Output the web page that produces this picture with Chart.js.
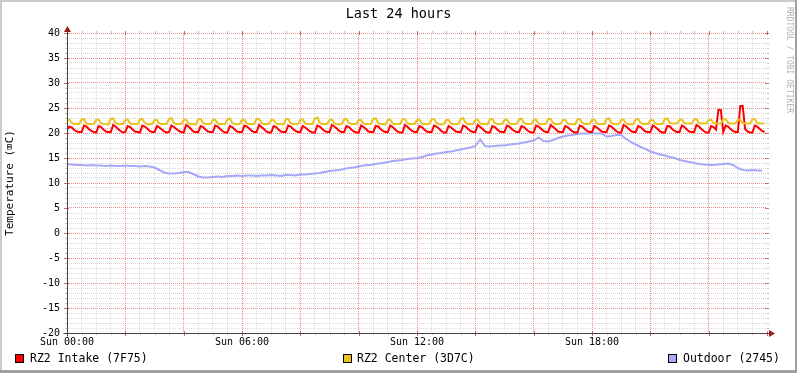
<!DOCTYPE html>
<html>
<head>
<meta charset="utf-8">
<script src="https://cdn.jsdelivr.net/npm/chart.js@4.4.1/dist/chart.umd.min.js"></script>
<style>
  html, body { margin:0; padding:0; background:#ffffff; }
  #wrap { position:relative; width:797px; height:373px; overflow:hidden; background:#ffffff; }
  #c { position:absolute; left:0; top:0; }
  .mono { font-family:'DejaVu Sans Mono', 'Liberation Mono', monospace; color:#000; }
  #title { position:absolute; left:0; top:5px; width:797px; text-align:center; font-size:13.5px; line-height:16px; }
  #wm { position:absolute; left:784px; top:7px; writing-mode:vertical-rl; font-size:8px; line-height:10px; color:#b0b0b0; white-space:nowrap; }
  .lg { position:absolute; top:351px; font-size:11.5px; line-height:14px; white-space:nowrap; }
  .sw { position:absolute; top:354px; width:7px; height:7px; border:1px solid #000; }
  .bd { position:absolute; }
</style>
</head>
<body>
<div id="wrap">
  <canvas id="c" width="797" height="373"></canvas>
  <div id="title" class="mono">Last 24 hours</div>
  <div id="wm" class="mono">RRDTOOL / TOBI OETIKER</div>
  <div id="legend"></div>
  <div class="bd" style="left:0;top:0;width:797px;height:2px;background:#cbcbcb"></div>
  <div class="bd" style="left:0;top:0;width:2px;height:373px;background:#cbcbcb"></div>
  <div class="bd" style="left:795px;top:0;width:2px;height:373px;background:#a0a0a0"></div>
  <div class="bd" style="left:0;top:370px;width:797px;height:3px;background:#a0a0a0"></div>
</div>
<script>
// ---- data ----
const seriesNames = ['RZ2 Intake (7F75)', 'RZ2 Center (3D7C)', 'Outdoor (2745)'];
const seriesColors = ['#FF0000', '#EAC320', '#A8A8F8'];
const xTickLabels = ['Sun 00:00', 'Sun 06:00', 'Sun 12:00', 'Sun 18:00'];
const intakeStepMin = 5;
const outdoorStepMin = 10;

// RZ2 Intake, one value every 5 minutes from 00:00
const intake = [
 20.7,21.3,21.1,20.6,20.3,20.2,  20.2,21.5,21.3,20.8,20.4,20.2,  20.1,21.4,21.2,20.7,20.3,20.2,  20.2,21.6,21.3,20.8,20.4,20.1,
 20.2,21.4,21.2,20.7,20.3,20.2,  20.1,21.5,21.3,20.9,20.4,20.2,  20.2,21.4,21.1,20.7,20.3,20.1,  20.2,21.5,21.2,20.8,20.4,20.2,
 20.1,21.6,21.3,20.8,20.3,20.2,  20.2,21.4,21.2,20.7,20.3,20.2,  20.2,21.5,21.3,20.8,20.4,20.1,  20.1,21.4,21.2,20.7,20.3,20.2,
 20.2,21.5,21.3,20.9,20.4,20.2,  20.2,21.6,21.2,20.8,20.3,20.1,  20.1,21.4,21.2,20.7,20.3,20.2,  20.2,21.5,21.3,20.8,20.4,20.2,
 20.2,21.4,21.1,20.7,20.3,20.1,  20.1,21.5,21.3,20.8,20.4,20.2,  20.2,21.6,21.3,20.9,20.4,20.2,  20.2,21.4,21.2,20.7,20.3,20.1,
 20.1,21.5,21.2,20.8,20.3,20.2,  20.2,21.4,21.3,20.8,20.4,20.2,  20.2,21.5,21.2,20.7,20.3,20.1,  20.1,21.6,21.3,20.8,20.4,20.2,
 20.2,21.4,21.2,20.7,20.3,20.2,  20.2,21.5,21.3,20.9,20.4,20.1,  20.1,21.4,21.1,20.7,20.3,20.2,  20.2,21.5,21.3,20.8,20.4,20.2,
 20.2,21.6,21.2,20.8,20.3,20.1,  20.1,21.4,21.2,20.7,20.3,20.2,  20.2,21.5,21.3,20.8,20.4,20.2,  20.2,21.4,21.2,20.7,20.3,20.1,
 20.1,21.5,21.3,20.9,20.4,20.2,  20.2,21.6,21.2,20.8,20.3,20.2,  20.2,21.4,21.2,20.7,20.3,20.1,  20.1,21.5,21.3,20.8,20.4,20.2,
 20.2,21.4,21.1,20.7,20.3,20.2,  20.2,21.5,21.3,20.8,20.4,20.1,  20.1,21.6,21.3,20.9,20.4,20.2,  20.2,21.4,21.2,20.7,20.3,20.2,
 20.2,21.5,21.2,20.8,20.3,20.1,  20.1,21.4,21.3,20.8,20.4,20.2,  20.2,21.5,21.2,20.7,20.3,20.2,  20.2,21.6,21.3,20.8,20.4,20.1,
 20.1,21.4,21.2,20.7,24.6,24.6,  20.2,21.5,21.3,20.8,20.4,20.2,  20.2,25.4,25.4,20.8,20.3,20.1,  20.1,21.5,21.3,20.8,20.4,20.2
];

// RZ2 Center, one value every 5 minutes from 00:00
const center = [
 22.6,22.7,22.0,21.8,21.8,21.8,  22.7,22.8,21.9,21.8,21.8,21.8,  22.6,22.7,22.0,21.8,21.8,21.7,  22.8,22.9,22.0,21.8,21.8,21.8,
 22.6,22.7,21.9,21.8,21.8,21.8,  22.7,22.8,22.0,21.8,21.7,21.8,  22.6,22.6,21.9,21.8,21.8,21.8,  22.8,23.0,22.0,21.8,21.8,21.8,
 22.6,22.7,21.9,21.8,21.8,21.7,  22.7,22.8,22.0,21.8,21.8,21.8,  22.6,22.7,21.9,21.8,21.8,21.8,  22.7,22.9,22.0,21.8,21.7,21.8,
 22.6,22.7,21.9,21.8,21.8,21.8,  22.8,22.8,22.0,21.8,21.8,21.8,  22.6,22.6,21.9,21.8,21.8,21.7,  22.7,22.8,22.0,21.8,21.8,21.8,
 22.6,22.7,21.9,21.8,21.8,21.8,  22.9,23.1,22.0,21.8,21.8,21.8,  22.6,22.7,21.9,21.8,21.7,21.8,  22.7,22.8,22.0,21.8,21.8,21.8,
 22.6,22.6,21.9,21.8,21.8,21.8,  22.8,22.9,22.0,21.8,21.8,21.7,  22.6,22.7,21.9,21.8,21.8,21.8,  22.7,22.8,22.0,21.8,21.8,21.8,
 22.6,22.7,21.9,21.8,21.8,21.8,  22.7,22.8,22.0,21.8,21.7,21.8,  22.6,22.6,21.9,21.8,21.8,21.8,  22.8,23.0,22.0,21.8,21.8,21.8,
 22.6,22.7,21.9,21.8,21.8,21.7,  22.7,22.8,22.0,21.8,21.8,21.8,  22.6,22.7,21.9,21.8,21.8,21.8,  22.7,22.9,22.0,21.8,21.8,21.8,
 22.6,22.7,21.9,21.8,21.8,21.8,  22.8,22.8,22.0,21.8,21.8,21.8,  22.6,22.6,21.9,21.8,21.8,21.7,  22.7,22.8,22.0,21.8,21.8,21.8,
 22.6,22.7,21.9,21.8,21.8,21.8,  22.8,22.9,22.0,21.8,21.8,21.8,  22.6,22.7,21.9,21.8,21.7,21.8,  22.7,22.8,22.0,21.8,21.8,21.8,
 22.6,22.6,21.9,21.8,21.8,21.8,  22.8,22.9,22.0,21.9,21.9,21.9,  22.6,22.7,22.0,21.9,21.9,21.9,  22.7,22.8,22.0,21.9,21.9,21.9,
 22.6,22.7,22.0,21.9,21.9,21.9,  22.7,22.8,22.0,21.9,21.9,21.9,  22.6,22.7,22.0,21.9,21.9,21.9,  22.7,22.8,22.0,21.9,21.9,21.9
];

// Outdoor, one value every 10 minutes from 00:00
const outdoor = [
 13.8,13.7,13.6,13.6,13.5,13.6, 13.5,13.5,13.4,13.5,13.4,13.4,
 13.5,13.4,13.4,13.3,13.4,13.3, 13.1,12.6,12.1,11.9,11.9,12.0,
 12.2,12.2,11.8,11.3,11.1,11.1, 11.2,11.3,11.2,11.4,11.4,11.5,
 11.4,11.5,11.5,11.4,11.5,11.5, 11.6,11.5,11.4,11.6,11.6,11.5,
 11.7,11.7,11.8,11.9,12.0,12.2, 12.4,12.5,12.6,12.8,13.0,13.1,
 13.3,13.5,13.6,13.7,13.9,14.0, 14.2,14.4,14.5,14.6,14.8,14.9,
 15.0,15.2,15.5,15.7,15.9,16.0, 16.2,16.3,16.5,16.7,16.9,17.1,
 17.4,18.7,17.4,17.3,17.4,17.5, 17.5,17.7,17.8,17.9,18.1,18.3,
 18.5,19.1,18.4,18.3,18.6,19.0, 19.3,19.5,19.6,19.8,19.9,19.9,
 20.0,19.9,19.9,19.3,19.4,19.6, 19.6,18.8,18.2,17.7,17.2,16.8,
 16.3,16.0,15.7,15.5,15.2,15.0, 14.6,14.4,14.2,14.0,13.8,13.7,
 13.6,13.6,13.7,13.8,13.9,13.6, 13.0,12.6,12.5,12.6,12.5,12.5
];

const yMin = -20, yMax = 40, xMin = 0, xMax = 1440;

// ---- styling constants ----
const MONO = "'DejaVu Sans Mono', 'Liberation Mono', monospace";
const GRID_MINOR = 'rgba(140,140,140,0.32)';
const GRID_MAJOR = 'rgba(220,50,50,0.55)';
const AXIS_COL = '#4a4040';
const ARROW_COL = '#a01818';

function toXY(arr, step) { return arr.map((v, i) => ({ x: i * step, y: v })); }

// legend (HTML text)
const legendEl = document.getElementById('legend');
const lgPos = [[15, 30], [343, 357], [668, 683]];
seriesNames.forEach((n, i) => {
  const sw = document.createElement('div');
  sw.className = 'sw';
  sw.style.left = lgPos[i][0] + 'px';
  sw.style.background = seriesColors[i];
  legendEl.appendChild(sw);
  const t = document.createElement('div');
  t.className = 'lg mono';
  t.style.left = lgPos[i][1] + 'px';
  t.textContent = n;
  legendEl.appendChild(t);
});

const rrdAxes = {
  id: 'rrdAxes',
  afterDraw(chart) {
    const { ctx, chartArea: { left, right, top, bottom } } = chart;
    const ys = chart.scales.y, xs = chart.scales.x;
    ctx.save();
    ctx.lineWidth = 1;
    // y ticks
    for (let v = yMin; v <= yMax; v++) {
      const py = Math.round(ys.getPixelForValue(v)) + 0.5;
      const major = v % 5 === 0;
      ctx.strokeStyle = major ? 'rgba(190,70,70,0.8)' : 'rgba(140,140,140,0.55)';
      ctx.beginPath();
      if (major) { ctx.moveTo(left - 3, py); ctx.lineTo(left + 2, py); ctx.moveTo(right - 2, py); ctx.lineTo(right + 2, py); }
      else { ctx.moveTo(left - 2, py); ctx.lineTo(left, py); ctx.moveTo(right, py); ctx.lineTo(right + 2, py); }
      ctx.stroke();
    }
    // x ticks
    for (let m = xMin; m <= xMax; m += 30) {
      const px = Math.round(xs.getPixelForValue(m)) + 0.5;
      const major = m % 120 === 0;
      ctx.strokeStyle = major ? 'rgba(190,70,70,0.8)' : 'rgba(140,140,140,0.55)';
      ctx.beginPath();
      if (major) { ctx.moveTo(px, bottom - 2); ctx.lineTo(px, bottom + 3); ctx.moveTo(px, top - 2); ctx.lineTo(px, top + 2); }
      else { ctx.moveTo(px, bottom); ctx.lineTo(px, bottom + 2); ctx.moveTo(px, top - 2); ctx.lineTo(px, top); }
      ctx.stroke();
    }
    // axes
    const ax = Math.round(left) + 0.5, ay = Math.round(bottom) + 0.5;
    ctx.strokeStyle = AXIS_COL;
    ctx.beginPath();
    ctx.moveTo(ax, ay + 3); ctx.lineTo(ax, top - 4);
    ctx.moveTo(ax - 4, ay); ctx.lineTo(right + 3, ay);
    ctx.stroke();
    // arrows
    ctx.fillStyle = ARROW_COL;
    ctx.beginPath();
    ctx.moveTo(ax, top - 7); ctx.lineTo(ax - 3.5, top - 1); ctx.lineTo(ax + 3.5, top - 1); ctx.closePath();
    ctx.fill();
    ctx.beginPath();
    ctx.moveTo(right + 8, ay); ctx.lineTo(right + 2, ay - 3.5); ctx.lineTo(right + 2, ay + 3.5); ctx.closePath();
    ctx.fill();
    ctx.restore();
  }
};

new Chart(document.getElementById('c'), {
  type: 'line',
  data: {
    datasets: [
      { label: seriesNames[1], data: toXY(center, intakeStepMin), borderColor: seriesColors[1], order: 1 },
      { label: seriesNames[0], data: toXY(intake, intakeStepMin), borderColor: seriesColors[0], order: 2 },
      { label: seriesNames[2], data: toXY(outdoor, outdoorStepMin), borderColor: seriesColors[2], order: 3 }
    ]
  },
  options: {
    responsive: false,
    animation: false,
    devicePixelRatio: 1,
    parsing: true,
    layout: { padding: { top: 33, right: 30, bottom: 0, left: 0 } },
    elements: {
      line: { borderWidth: 2, tension: 0, fill: false, borderJoinStyle: 'miter', borderCapStyle: 'butt' },
      point: { radius: 0, hoverRadius: 0 }
    },
    plugins: { legend: { display: false }, title: { display: false }, tooltip: { enabled: false } },
    scales: {
      x: {
        type: 'linear', min: xMin, max: xMax,
        afterFit(s) { s.height = 40; },
        border: { display: false, dash: [1, 1] },
        grid: {
          drawTicks: false,
          color: c => (c.tick && c.tick.value >= xMax) ? 'rgba(0,0,0,0)' : (c.tick && c.tick.value % 120 === 0 ? GRID_MAJOR : GRID_MINOR),
          lineWidth: 1
        },
        ticks: {
          stepSize: 30, maxTicksLimit: 100, autoSkip: false, maxRotation: 0, minRotation: 0,
          padding: 3, color: '#000', font: { family: MONO, size: 10 },
          callback: v => (v % 360 === 0 && xTickLabels[v / 360] !== undefined) ? xTickLabels[v / 360] : ''
        }
      },
      y: {
        type: 'linear', min: yMin, max: yMax,
        afterFit(s) { s.width = 67; },
        border: { display: false, dash: [1, 1] },
        grid: {
          drawTicks: false,
          color: c => (c.tick && c.tick.value % 5 === 0) ? GRID_MAJOR : GRID_MINOR,
          lineWidth: 1
        },
        ticks: {
          stepSize: 1, maxTicksLimit: 100, autoSkip: false,
          padding: 7, color: '#000', font: { family: MONO, size: 10 },
          callback: v => (v % 5 === 0) ? String(v) : ''
        },
        title: {
          display: true, text: 'Temperature (\u2327C)', color: '#000',
          font: { family: MONO, size: 11 }, padding: { top: 4, bottom: 0 }
        }
      }
    }
  },
  plugins: [rrdAxes]
});
</script>
</body>
</html>
